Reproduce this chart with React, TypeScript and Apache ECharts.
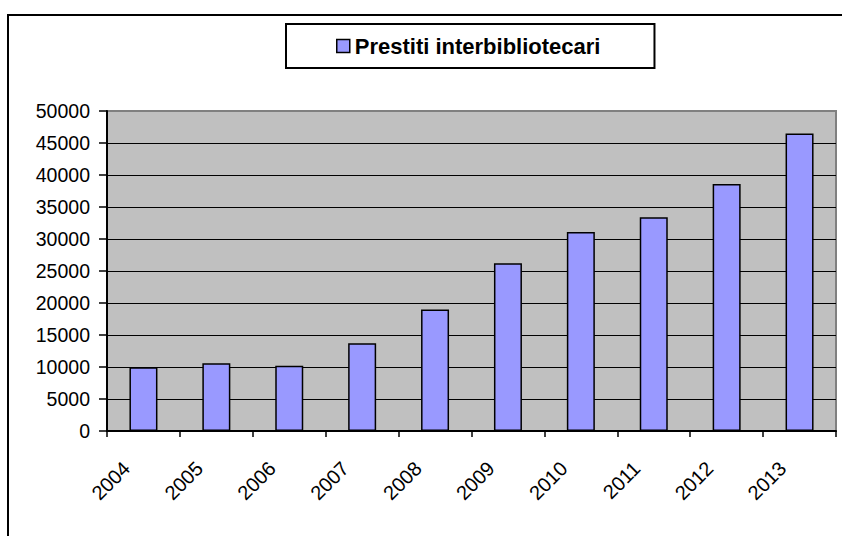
import React, { useEffect, useRef } from "react";
import * as echarts from "echarts";

const categories = ["2004", "2005", "2006", "2007", "2008", "2009", "2010", "2011", "2012", "2013"];
const prestiti = [9950, 10600, 10200, 13700, 19000, 26200, 31100, 33400, 38600, 46500];
const seriesName = "Prestiti interbibliotecari";
const yMin = 0;
const yMax = 50000;
const yInterval = 5000;

const FONT = "'Liberation Sans', Arial, sans-serif";

export default function App() {
  const ref = useRef<HTMLDivElement>(null);

  useEffect(() => {
    if (!ref.current) return;
    const chart = echarts.init(ref.current, null, { renderer: "svg" });
    const nLines = Math.round((yMax - yMin) / yInterval) + 1;
    const splitColors = Array.from({ length: nLines }, (_, i) => (i === nLines - 1 ? "#808080" : "#000000"));
    chart.setOption({
      animation: false,
      backgroundColor: "#ffffff",
      textStyle: { fontFamily: FONT },
      graphic: [
        {
          type: "rect",
          z: -10,
          silent: true,
          shape: { x: 8, y: 15, width: 900, height: 600 },
          style: { fill: "none", stroke: "#000000", lineWidth: 2 },
        },
      ],
      legend: {
        left: 286,
        top: 24,
        padding: [11, 54, 11, 50],
        borderColor: "#000000",
        borderWidth: 2,
        backgroundColor: "#ffffff",
        icon: "rect",
        itemWidth: 13,
        itemHeight: 13,
        itemGap: 6,
        textStyle: { fontSize: 22, fontWeight: "bold", color: "#000000", fontFamily: FONT, lineHeight: 21 },
        itemStyle: { borderColor: "#000000", borderWidth: 1.5 },
        data: [seriesName],
      },
      grid: {
        left: 107,
        right: 6,
        top: 111,
        bottom: 105,
        show: true,
        backgroundColor: "#c0c0c0",
        borderColor: "#808080",
        borderWidth: 2,
        containLabel: false,
        outerBoundsMode: "none",
      },
      xAxis: {
        type: "category",
        data: categories,
        boundaryGap: true,
        axisLine: { show: true, lineStyle: { color: "#000000", width: 2 } },
        axisTick: { show: true, length: 6, lineStyle: { color: "#000000", width: 1.5 } },
        axisLabel: {
          rotate: 45,
          fontSize: 20,
          color: "#000000",
          fontFamily: FONT,
          margin: 17,
          padding: [0, 24, 0, 0],
          interval: 0,
        },
        splitLine: { show: false },
      },
      yAxis: {
        type: "value",
        min: yMin,
        max: yMax,
        interval: yInterval,
        axisLine: { show: true, lineStyle: { color: "#000000", width: 2 } },
        axisTick: { show: true, length: 8, lineStyle: { color: "#000000", width: 1.5 } },
        axisLabel: {
          fontSize: 19.5,
          color: "#000000",
          fontFamily: FONT,
          margin: 17,
          formatter: (v: number) => String(v),
        },
        splitLine: { show: true, lineStyle: { color: splitColors, width: 1.2 } },
      },
      series: [
        {
          name: seriesName,
          type: "bar",
          data: prestiti,
          barWidth: 28,
          itemStyle: { color: "#9999ff", borderColor: "#000000", borderWidth: 1.5 },
        },
      ],
    });
    return () => chart.dispose();
  }, []);

  return <div ref={ref} style={{ position: "fixed", left: 0, top: 0, width: 842, height: 536 }} />;
}
